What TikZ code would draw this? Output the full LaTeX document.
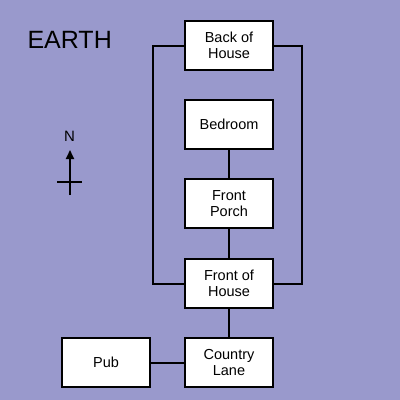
\documentclass[tikz,border=0pt]{standalone}
\usepackage{fontspec}
\setmainfont{Liberation Sans}
\usetikzlibrary{positioning,arrows.meta}
\definecolor{earthbg}{HTML}{9999CC}

\tikzset{
  room/.style={draw=black, line width=2pt, fill=white, align=center,
               minimum width=88pt, minimum height=49pt, inner sep=0pt,
               font=\fontsize{14.5}{16}\selectfont},
  link/.style={draw=black, line width=2pt}
}

\begin{document}
\begin{tikzpicture}[x=1pt, y=-1pt, node distance=28pt]

  \fill[earthbg] (0,0) rectangle (400,400);
  \useasboundingbox (0,0) rectangle (400,400);

  \node[anchor=base west, font=\fontsize{25}{28}\selectfont] (title) at (24,48) {EARTH};

  % rooms
  \node[room] (back) at (229,45.5) {Back of\\House};
  \node[room, below = of back] (bedroom) {Bedroom};
  \node[room, below = of bedroom] (porch) {Front\\Porch};
  \node[room, below = 29pt of porch] (front) {Front of\\House};
  \node[room, below = of front] (lane) {Country\\Lane};
  \node[room, left = 33pt of lane] (pub) {Pub};

  % connections
  \draw[link] (bedroom) -- (porch);
  \draw[link] (porch) -- (front);
  \draw[link] (front) -- (lane);
  \draw[link] (pub) -- (lane);
  \draw[link] (back.west) -- ++(-31,0) |- (front.west);
  \draw[link] (back.east) -- ++(28,0) |- (front.east);

  % compass
  \node[font=\fontsize{15}{16}\selectfont] (north) at (69.5,136) {N};
  \coordinate (tip) at (70,150);
  \coordinate (tail) at (70,195);
  \coordinate (crossW) at (57,182);
  \coordinate (crossE) at (82,182);
  \draw[line width=2pt, -{Triangle[length=9pt,width=8pt]}] (tail) -- (tip);
  \draw[line width=2pt] (crossW) -- (crossE);

\end{tikzpicture}
\end{document}
